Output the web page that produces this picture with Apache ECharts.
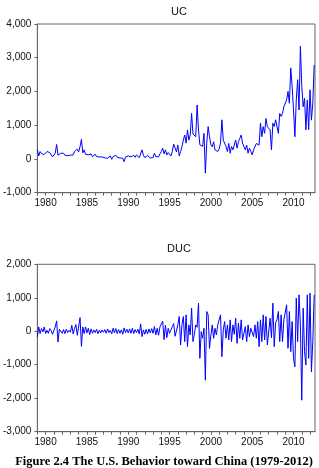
<!DOCTYPE html>
<html>
<head>
<meta charset="utf-8">
<script src="https://cdn.jsdelivr.net/npm/echarts@6/dist/echarts.min.js"></script>
<style>
html,body{margin:0;padding:0;background:#fff;}
#c{width:319px;height:468px;}
</style>
</head>
<body>
<div id="c"></div>
<script>
// Bi-monthly observations starting 1979, six per year
const startYear = 1979;
const perYear = 6;

const ucValues = [
  280, 90, 220, 160, 200, 130,        // 1979
  140, 220, 180, 190, 160, 60,        // 1980
  50, 170, 430, 110, 150, 170,        // 1981
  120, 170, 110, 150, 100, 130,       // 1982
  110, 160, 120, 220, 170, 290,       // 1983
  210, 370, 580, 180, 270, 140,       // 1984
  190, 120, 90, 150, 70, 120,         // 1985
  140, 70, 110, 60, 90, 60,           // 1986
  100, 30, 80, 20, 60, 90,            // 1987
  -10, 70, 40, 110, 50, 90,           // 1988
  30, 70, 20, -80, 60, 30,            // 1989
  90, 40, 60, 20, 110, 50,            // 1990
  120, 70, 40, 90, 270, 110,          // 1991
  40, 20, 100, 60, 30, 80,            // 1992
  40, 170, 70, 120, 60, 150,          // 1993
  220, 320, 150, 270, 120, 190,       // 1994
  160, 90, 220, 440, 330, 210,        // 1995
  410, 90, 220, 370, 560, 710,        // 1996
  470, 860, 560, 710, 1350, 740,      // 1997
  760, 660, 1600, 860, 420, 370,      // 1998
  370, 760, -420, 470, 960, 660,      // 1999
  420, 360, 510, 270, 320, 220,       // 2000
  300, 470, 1160, 560, 610, 370,      // 2001
  220, 460, 170, 370, 270, 300,       // 2002
  560, 320, 510, 610, 710, 470,       // 2003
  470, 270, 410, 170, 320, 230,       // 2004
  120, 270, 220, 460, 510, 410,       // 2005
  1060, 660, 960, 760, 1200, 960,     // 2006
  960, 860, 270, 1060, 960, 1160,     // 2007
  1160, 760, 1350, 1260, 1350, 1550,  // 2008
  1550, 1750, 2000, 1650, 2700, 2150, // 2009
  1450, 660, 1750, 2350, 1450, 3340,  // 2010
  2150, 1550, 1800, 860, 1750, 870,   // 2011
  2050, 1150, 1650, 2790              // 2012
];

const ducValues = [
  -170, 130, -70, 80, -20, 130,       // 1979
  -70, 30, -60, 80, 20, -90,          // 1980
  -40, 130, 310, -320, 60, 80,        // 1981
  -60, 50, -70, 60, -40, 30,          // 1982
  -30, 180, -80, 80, 200, -120,       // 1983
  -120, 410, -450, 130, -70, 130,     // 1984
  -50, 90, -100, 70, -60, 40,         // 1985
  -40, 60, -70, 30, -50, 40,          // 1986
  -30, 50, -60, 70, -40, 30,          // 1987
  -80, 90, -50, 80, -70, 50,          // 1988
  -60, 40, -90, 100, -40, 60,         // 1989
  -50, 70, -60, 90, -70, 50,          // 1990
  -40, 60, -80, 220, -160, 40,        // 1991
  -90, 60, -80, 70, -50, 80,          // 1992
  -60, 140, -110, 90, -120, 130,      // 1993
  120, 300, -250, 180, -190, 90,      // 1994
  -60, -90, 140, 230, -150, -120,     // 1995
  190, 440, -410, 200, 440, -310,     // 1996
  490, -460, 190, -110, 690, -310,    // 1997
  -90, 190, 120, 840, -810, -10,      // 1998
  -210, 90, -1460, 590, 490, -510,    // 1999
  -110, 190, -210, 90, -110, 190,     // 2000
  190, 490, -760, 40, 290, -210,      // 2001
  190, -260, 340, -310, 190, -90,     // 2002
  390, -360, 240, -210, 340, -260,    // 2003
  -260, 140, -310, 190, -160, 90,     // 2004
  90, -160, 190, -210, 290, -460,     // 2005
  340, -310, 490, -260, 440, -410,    // 2006
  -410, 390, -200, 840, -460, 260,    // 2007
  340, 590, -310, 490, -310, 340,     // 2008
  340, 790, -510, 590, -610, 290,     // 2009
  -810, -1060, 990, -310, 1090, 190,  // 2010
  -2060, 690, -610, -1010, 1090, -810,// 2011
  1140, -1210, -310, 1090             // 2012
];

const yearLabels = [1980, 1985, 1990, 1995, 2000, 2005, 2010];
const yearTicks = [];
for (let y = 1979; y <= 2012; y++) yearTicks.push(y);
const ucTicks = [-1000, 0, 1000, 2000, 3000, 4000];
const ducTicks = [-3000, -2000, -1000, 0, 1000, 2000];

const titles = ['UC', 'DUC'];
const caption = 'Figure 2.4 The U.S. Behavior toward China (1979-2012)';

function toPairs(vals) {
  return vals.map((v, i) => [startYear + i / perYear, v]);
}
function fmtNum(v) {
  const s = Math.abs(v).toString().replace(/\B(?=(\d{3})+(?!\d))/g, ',');
  return (v < 0 ? '-' : '') + s;
}

const axisColor = '#666';
const font = 'Liberation Sans, Arial, sans-serif';

function xAxisDef(gi) {
  return {
    type: 'value', gridIndex: gi, min: 1979, max: 2012.6,
    axisLine: { show: true, onZero: false, lineStyle: { color: axisColor, width: 1 } },
    axisTick: { show: true, customValues: yearTicks, length: 3, lineStyle: { color: axisColor } },
    axisLabel: { customValues: yearLabels, formatter: v => String(v), color: '#111', fontSize: 10, fontFamily: font, margin: 6 },
    splitLine: { show: false }
  };
}
function yAxisDef(gi, ticks) {
  return {
    type: 'value', gridIndex: gi, min: ticks[0], max: ticks[ticks.length - 1], interval: 1000,
    axisLine: { show: true, lineStyle: { color: axisColor, width: 1 } },
    axisTick: { show: true, length: 3, lineStyle: { color: axisColor } },
    axisLabel: { formatter: v => fmtNum(v), color: '#111', fontSize: 10, fontFamily: font, margin: 6 },
    splitLine: { show: false }
  };
}

const chart = echarts.init(document.getElementById('c'), null, { renderer: 'canvas' });
chart.setOption({
  animation: false,
  backgroundColor: '#fff',
  title: [
    { text: titles[0], left: 174, top: 1, textAlign: 'center', textStyle: { fontSize: 11, fontWeight: 'normal', color: '#111', fontFamily: font } },
    { text: titles[1], left: 174, top: 238, textAlign: 'center', textStyle: { fontSize: 11, fontWeight: 'normal', color: '#111', fontFamily: font } },
    { text: caption, left: 159, top: 450, textAlign: 'center', textStyle: { fontSize: 12.5, fontWeight: 'bold', color: '#000', fontFamily: 'Liberation Serif, Times New Roman, serif' } }
  ],
  grid: [
    { left: 34, top: 24, width: 281, height: 168.7, show: true, borderColor: axisColor, borderWidth: 1, backgroundColor: 'transparent' },
    { left: 34, top: 264.3, width: 281, height: 167.4, show: true, borderColor: axisColor, borderWidth: 1, backgroundColor: 'transparent' }
  ],
  xAxis: [xAxisDef(0), xAxisDef(1)],
  yAxis: [yAxisDef(0, ucTicks), yAxisDef(1, ducTicks)],
  series: [
    { type: 'line', xAxisIndex: 0, yAxisIndex: 0, data: toPairs(ucValues), showSymbol: false, lineStyle: { color: '#0000ff', width: 1 }, clip: true },
    { type: 'line', xAxisIndex: 1, yAxisIndex: 1, data: toPairs(ducValues), showSymbol: false, lineStyle: { color: '#0000ff', width: 1 }, clip: true }
  ]
});
</script>
</body>
</html>
